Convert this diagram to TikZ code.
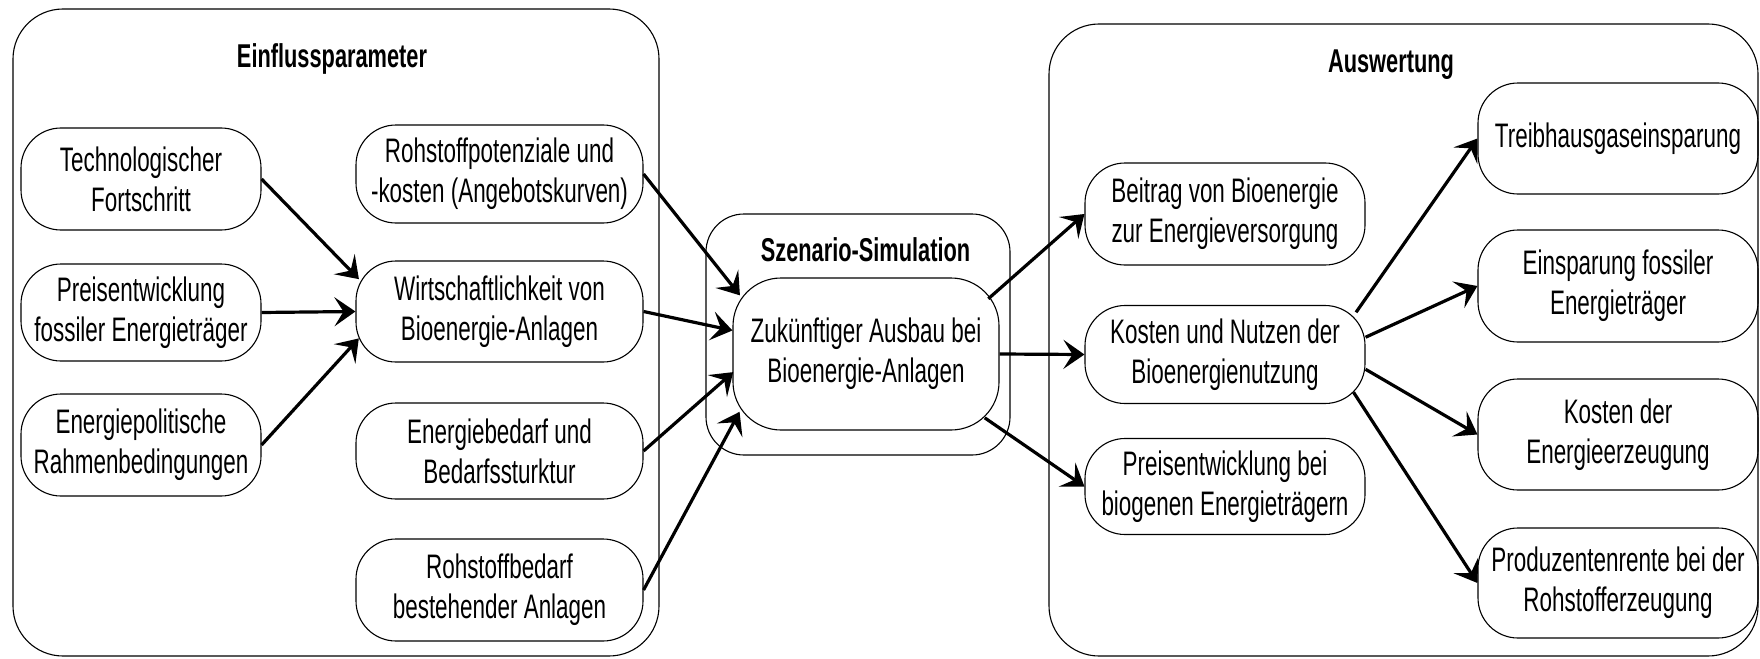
\documentclass[tikz,border=0pt]{standalone}
\usepackage{fontspec}
\setmainfont{Liberation Sans}[FakeStretch=0.66]
\usetikzlibrary{arrows.meta}
\begin{document}
\begin{tikzpicture}[x=1pt,y=-1pt,
  txt/.style={font=\fontsize{34}{40}\selectfont},
  box/.style={draw, line width=1.1pt, rounded corners=40pt, align=center, inner sep=0pt, txt},
  bigbox/.style={draw, line width=1.1pt, inner sep=0pt},
  ttl/.style={font=\fontsize{33}{40}\selectfont\bfseries, inner sep=0pt, anchor=base},
  arr/.style={line width=3.2pt, -{Stealth[length=21pt,width=29pt,inset=9pt]}}
]
\useasboundingbox (0,0) rectangle (1760,658);

% containers
\node[bigbox, rounded corners=50pt, minimum width=646pt, minimum height=647pt] (left) at (336,332.5) {};
\node[bigbox, rounded corners=50pt, minimum width=709pt, minimum height=632pt] (right) at (1403.5,340) {};
\node[bigbox, rounded corners=38pt, minimum width=304pt, minimum height=241pt] (simout) at (858,334.5) {};

% titles
\node[ttl] (t1) at (332,68) {Einflussparameter};
\node[ttl] (t2) at (1391,73) {Auswertung};
\node[ttl] (t3) at (865.5,261) {Szenario-Simulation};

% left column
\node[box, minimum width=240pt, minimum height=102pt] (tech) at (141,179) {Technologischer\\Fortschritt};
\node[box, minimum width=240pt, minimum height=97pt] (preis) at (141,312.5) {Preisentwicklung\\fossiler Energieträger};
\node[box, minimum width=240pt, minimum height=102pt] (epol) at (141,445) {Energiepolitische\\Rahmenbedingungen};

% middle column
\node[box, minimum width=287pt, minimum height=98pt] (rpot) at (499.5,174) {Rohstoffpotenziale und\\-kosten (Angebotskurven)};
\node[box, minimum width=287pt, minimum height=101pt] (wirt) at (499.5,311.5) {Wirtschaftlichkeit von\\Bioenergie-Anlagen};
\node[box, minimum width=287pt, minimum height=96pt] (ebed) at (499.5,451) {Energiebedarf und\\Bedarfssturktur};
\node[box, minimum width=287pt, minimum height=102pt] (rbed) at (499.5,590) {Rohstoffbedarf\\bestehender Anlagen};

% simulation
\node[box, rounded corners=48pt, minimum width=266pt, minimum height=152pt] (sim) at (866,354) {Zukünftiger Ausbau bei\\Bioenergie-Anlagen};

% right-middle column
\node[box, minimum width=280pt, minimum height=102pt] (beit) at (1225,214) {Beitrag von Bioenergie\\zur Energieversorgung};
\node[box, minimum width=280pt, minimum height=98pt] (kun) at (1225,354.5) {Kosten und Nutzen der\\Bioenergienutzung};
\node[box, minimum width=280pt, minimum height=96pt] (pbio) at (1225,486.5) {Preisentwicklung bei\\biogenen Energieträgern};

% right column
\node[box, minimum width=280pt, minimum height=111pt] (thg) at (1618,138.5) {Treibhausgaseinsparung};
\node[box, minimum width=280pt, minimum height=112pt] (efos) at (1618,286) {Einsparung fossiler\\Energieträger};
\node[box, minimum width=280pt, minimum height=111pt] (kost) at (1618,434.5) {Kosten der\\Energieerzeugung};
\node[box, minimum width=280pt, minimum height=110pt] (prod) at (1618,583) {Produzentenrente bei der\\Rohstofferzeugung};

% connectors into Wirtschaftlichkeit
\draw[arr, shorten >=-5pt] (tech.east) -- (wirt.166.2);
\draw[arr] (preis.east) -- (wirt.west);
\draw[arr, shorten >=-5pt] (epol.east) -- (wirt.192.9);

% connectors into simulation
\draw[arr, shorten >=-12pt] (rpot.east) -- (sim.153.6);
\draw[arr] (wirt.east) -- (sim.170.6);
\draw[arr, shorten >=-1pt] (ebed.east) -- (sim.188.1);
\draw[arr, shorten >=-15pt] (rbed.east) -- (sim.208.4);

% out of simulation
\draw[arr, shorten <=-15pt] (sim.26.5) -- (beit.west);
\draw[arr] (sim.east) -- (kun.west);
\draw[arr, shorten <=-18pt] (sim.331.9) -- (pbio.west);

% out of Kosten und Nutzen
\draw[arr, shorten <=-9pt] (kun.20.1) -- (thg.west);
\draw[arr] (kun.7.8) -- (efos.west);
\draw[arr] (kun.354.2) -- (kost.west);
\draw[arr, shorten <=-14pt] (kun.340.3) -- (prod.west);
\end{tikzpicture}
\end{document}
